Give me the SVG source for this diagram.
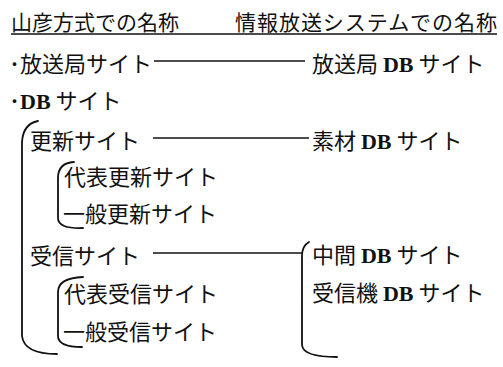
<svg xmlns="http://www.w3.org/2000/svg" width="503" height="367" viewBox="0 0 503 367">
<style>
text{font-family:"Noto Sans CJK JP","Noto Sans",sans-serif;fill:#111;}
.h{font-size:21px;}
.t{font-size:22px;}
.db{font-family:"Liberation Serif",serif;font-weight:bold;}
.ln{stroke:#111;stroke-width:1.6;fill:none;}
.br{stroke:#111;stroke-width:1.8;fill:none;stroke-linecap:round;}
</style>
<rect width="503" height="367" fill="#fff"/>
<g id="header">
<text class="h" x="11" y="30">山彦方式での名称</text>
<text class="h" x="235" y="30" textLength="262">情報放送システムでの名称</text>
<line class="ln" x1="11" y1="34" x2="497" y2="34"/>
</g>
<g id="n-housoukyoku"><text class="t" x="9" y="72">･放送局サイト</text></g>
<g id="n-housoukyoku-db"><text class="t" x="312" y="72">放送局 <tspan class="db">DB</tspan> サイト</text></g>
<g id="n-db"><text class="t" x="9" y="109">･<tspan class="db">DB</tspan> サイト</text></g>
<g id="n-koushin"><text class="t" x="30" y="149">更新サイト</text></g>
<g id="n-sozai-db"><text class="t" x="312" y="149">素材 <tspan class="db">DB</tspan> サイト</text></g>
<g id="n-daihyou-koushin"><text class="t" x="64" y="185">代表更新サイト</text></g>
<g id="n-ippan-koushin"><text class="t" x="63" y="222">一般更新サイト</text></g>
<g id="n-jushin"><text class="t" x="30" y="264">受信サイト</text></g>
<g id="n-chuukan-db"><text class="t" x="312" y="263">中間 <tspan class="db">DB</tspan> サイト</text></g>
<g id="n-jushinki-db"><text class="t" x="312" y="301">受信機 <tspan class="db">DB</tspan> サイト</text></g>
<g id="n-daihyou-jushin"><text class="t" x="64" y="302">代表受信サイト</text></g>
<g id="n-ippan-jushin"><text class="t" x="63" y="340">一般受信サイト</text></g>
<g id="connectors">
<line class="ln" x1="154" y1="61" x2="305" y2="61"/>
<line class="ln" x1="153" y1="138" x2="309" y2="138"/>
<line class="ln" x1="153" y1="253" x2="303" y2="253"/>
<path class="br" d="M38 121 Q23 124 22 142 L22 336 Q24 354 57 354"/>
<path class="br" d="M74 162 Q58 163 58 178 L58 218 Q58 229 83 228"/>
<path class="br" d="M83 277 Q58 278 58 292 L58 336 Q58 347 82 347"/>
<path class="br" d="M309 242 Q302 246 302 256 L302 345 Q303 357 337 357"/>
</g>
</svg>
